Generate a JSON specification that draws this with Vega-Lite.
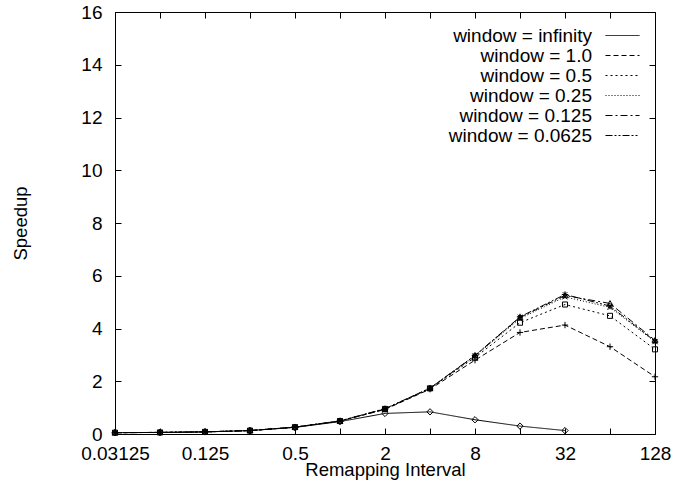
{
  "$schema": "https://vega.github.io/schema/vega-lite/v6.json",
  "width": 540,
  "height": 422,
  "autosize": {"type": "none"},
  "padding": {"left": 115, "top": 12, "right": 30, "bottom": 52},
  "background": "white",
  "config": {
    "view": {"stroke": "black", "strokeWidth": 1},
    "font": "Liberation Sans",
    "axis": {
      "labelFont": "Liberation Sans",
      "titleFont": "Liberation Sans",
      "labelFontSize": 19,
      "titleFontSize": 18.5,
      "titleFontWeight": "normal",
      "labelColor": "black",
      "titleColor": "black",
      "tickColor": "black",
      "domain": false,
      "grid": false,
      "tickSize": -6,
      "labelPadding": 12,
      "labelFlush": false
    },
    "legend": {
      "labelFont": "Liberation Sans",
      "labelFontSize": 19,
      "labelColor": "black",
      "rowPadding": -3
    }
  },
  "data": {
    "values": [
      {"x": 0.03125, "y": 0.05, "series": "window = infinity"},
      {"x": 0.0625, "y": 0.06, "series": "window = infinity"},
      {"x": 0.125, "y": 0.08, "series": "window = infinity"},
      {"x": 0.25, "y": 0.13, "series": "window = infinity"},
      {"x": 0.5, "y": 0.25, "series": "window = infinity"},
      {"x": 1, "y": 0.47, "series": "window = infinity"},
      {"x": 2, "y": 0.78, "series": "window = infinity"},
      {"x": 4, "y": 0.84, "series": "window = infinity"},
      {"x": 8, "y": 0.54, "series": "window = infinity"},
      {"x": 16, "y": 0.30, "series": "window = infinity"},
      {"x": 32, "y": 0.13, "series": "window = infinity"},

      {"x": 0.03125, "y": 0.05, "series": "window = 1.0"},
      {"x": 0.0625, "y": 0.06, "series": "window = 1.0"},
      {"x": 0.125, "y": 0.08, "series": "window = 1.0"},
      {"x": 0.25, "y": 0.13, "series": "window = 1.0"},
      {"x": 0.5, "y": 0.26, "series": "window = 1.0"},
      {"x": 1, "y": 0.49, "series": "window = 1.0"},
      {"x": 2, "y": 0.93, "series": "window = 1.0"},
      {"x": 4, "y": 1.70, "series": "window = 1.0"},
      {"x": 8, "y": 2.80, "series": "window = 1.0"},
      {"x": 16, "y": 3.85, "series": "window = 1.0"},
      {"x": 32, "y": 4.13, "series": "window = 1.0"},
      {"x": 64, "y": 3.31, "series": "window = 1.0"},
      {"x": 128, "y": 2.17, "series": "window = 1.0"},

      {"x": 0.03125, "y": 0.05, "series": "window = 0.5"},
      {"x": 0.0625, "y": 0.06, "series": "window = 0.5"},
      {"x": 0.125, "y": 0.08, "series": "window = 0.5"},
      {"x": 0.25, "y": 0.13, "series": "window = 0.5"},
      {"x": 0.5, "y": 0.26, "series": "window = 0.5"},
      {"x": 1, "y": 0.49, "series": "window = 0.5"},
      {"x": 2, "y": 0.95, "series": "window = 0.5"},
      {"x": 4, "y": 1.73, "series": "window = 0.5"},
      {"x": 8, "y": 2.90, "series": "window = 0.5"},
      {"x": 16, "y": 4.22, "series": "window = 0.5"},
      {"x": 32, "y": 4.91, "series": "window = 0.5"},
      {"x": 64, "y": 4.48, "series": "window = 0.5"},
      {"x": 128, "y": 3.21, "series": "window = 0.5"},

      {"x": 0.03125, "y": 0.05, "series": "window = 0.25"},
      {"x": 0.0625, "y": 0.06, "series": "window = 0.25"},
      {"x": 0.125, "y": 0.08, "series": "window = 0.25"},
      {"x": 0.25, "y": 0.13, "series": "window = 0.25"},
      {"x": 0.5, "y": 0.26, "series": "window = 0.25"},
      {"x": 1, "y": 0.49, "series": "window = 0.25"},
      {"x": 2, "y": 0.95, "series": "window = 0.25"},
      {"x": 4, "y": 1.73, "series": "window = 0.25"},
      {"x": 8, "y": 2.95, "series": "window = 0.25"},
      {"x": 16, "y": 4.38, "series": "window = 0.25"},
      {"x": 32, "y": 5.20, "series": "window = 0.25"},
      {"x": 64, "y": 4.80, "series": "window = 0.25"},
      {"x": 128, "y": 3.50, "series": "window = 0.25"},

      {"x": 0.03125, "y": 0.05, "series": "window = 0.125"},
      {"x": 0.0625, "y": 0.06, "series": "window = 0.125"},
      {"x": 0.125, "y": 0.08, "series": "window = 0.125"},
      {"x": 0.25, "y": 0.13, "series": "window = 0.125"},
      {"x": 0.5, "y": 0.26, "series": "window = 0.125"},
      {"x": 1, "y": 0.49, "series": "window = 0.125"},
      {"x": 2, "y": 0.95, "series": "window = 0.125"},
      {"x": 4, "y": 1.73, "series": "window = 0.125"},
      {"x": 8, "y": 2.97, "series": "window = 0.125"},
      {"x": 16, "y": 4.42, "series": "window = 0.125"},
      {"x": 32, "y": 5.25, "series": "window = 0.125"},
      {"x": 64, "y": 4.95, "series": "window = 0.125"},
      {"x": 128, "y": 3.55, "series": "window = 0.125"},

      {"x": 0.03125, "y": 0.05, "series": "window = 0.0625"},
      {"x": 0.0625, "y": 0.06, "series": "window = 0.0625"},
      {"x": 0.125, "y": 0.08, "series": "window = 0.0625"},
      {"x": 0.25, "y": 0.13, "series": "window = 0.0625"},
      {"x": 0.5, "y": 0.26, "series": "window = 0.0625"},
      {"x": 1, "y": 0.50, "series": "window = 0.0625"},
      {"x": 2, "y": 0.96, "series": "window = 0.0625"},
      {"x": 4, "y": 1.74, "series": "window = 0.0625"},
      {"x": 8, "y": 2.98, "series": "window = 0.0625"},
      {"x": 16, "y": 4.44, "series": "window = 0.0625"},
      {"x": 32, "y": 5.29, "series": "window = 0.0625"},
      {"x": 64, "y": 4.85, "series": "window = 0.0625"},
      {"x": 128, "y": 3.52, "series": "window = 0.0625"}
    ]
  },
  "resolve": {"axis": {"x": "independent", "y": "independent"}},
  "layer": [
    {
      "mark": {"type": "line", "color": "black", "strokeWidth": 1},
      "encoding": {
        "x": {
          "field": "x", "type": "quantitative",
          "scale": {"type": "log", "base": 2, "domain": [0.03125, 128]},
          "axis": {
            "title": "Remapping Interval",
            "orient": "bottom",
            "values": [0.03125, 0.0625, 0.125, 0.25, 0.5, 1, 2, 4, 8, 16, 32, 64, 128],
            "labelExpr": "indexof([0.03125, 0.125, 0.5, 2, 8, 32, 128], datum.value) >= 0 ? '' + datum.value : ''",
            "labelPadding": 16,
            "titlePadding": -3,
            "labelOverlap": false
          }
        },
        "y": {
          "field": "y", "type": "quantitative",
          "scale": {"domain": [0, 16], "nice": false},
          "axis": {
            "title": "Speedup",
            "orient": "left",
            "values": [0, 2, 4, 6, 8, 10, 12, 14, 16],
            "labelPadding": 19,
            "titlePadding": 50
          }
        },
        "strokeDash": {
          "field": "series", "type": "nominal",
          "scale": {
            "domain": ["window = infinity", "window = 1.0", "window = 0.5", "window = 0.25", "window = 0.125", "window = 0.0625"],
            "range": [[1, 0], [5, 3], [2, 3], [1, 2], [7, 3, 2, 3], [7, 2, 2, 2, 2, 2]]
          },
          "legend": {
            "title": null,
            "orient": "none",
            "legendX": 498,
            "legendY": 14,
            "padding": 0,
            "symbolSize": 64,
            "symbolType": "M-4.25,0L4.25,0",
            "symbolStrokeColor": "black",
            "symbolStrokeWidth": 1,
            "labelAlign": "right",
            "labelOffset": -40,
            "labelLimit": 300,
            "rowPadding": -3
          }
        },
        "detail": {"field": "series"}
      }
    },
    {
      "mark": {"type": "point", "filled": false, "color": "black", "strokeWidth": 1, "size": 40, "opacity": 1},
      "encoding": {
        "x": {
          "field": "x", "type": "quantitative",
          "axis": {
            "orient": "top", "title": null, "labels": false,
            "values": [0.03125, 0.0625, 0.125, 0.25, 0.5, 1, 2, 4, 8, 16, 32, 64, 128]
          }
        },
        "y": {
          "field": "y", "type": "quantitative",
          "axis": {
            "orient": "right", "title": null, "labels": false,
            "values": [0, 2, 4, 6, 8, 10, 12, 14, 16]
          }
        },
        "shape": {
          "field": "series", "type": "nominal",
          "scale": {
            "domain": ["window = 0.0625", "window = 0.125", "window = 0.25", "window = 0.5", "window = 1.0", "window = infinity"],
            "range": [
              "M-1,0L1,0M0,-1L0,1M-0.7,-0.7L0.7,0.7M-0.7,0.7L0.7,-0.7",
              "M0,-0.9L0.9,0.7L-0.9,0.7Z",
              "M-0.8,-0.8L0.8,0.8M-0.8,0.8L0.8,-0.8",
              "M-0.8,-0.8L0.8,-0.8L0.8,0.8L-0.8,0.8Z",
              "M-1,0L1,0M0,-1L0,1",
              "M0,-1L1,0L0,1L-1,0Z"
            ]
          },
          "legend": null
        },
        "detail": {"field": "series"}
      }
    }
  ]
}
